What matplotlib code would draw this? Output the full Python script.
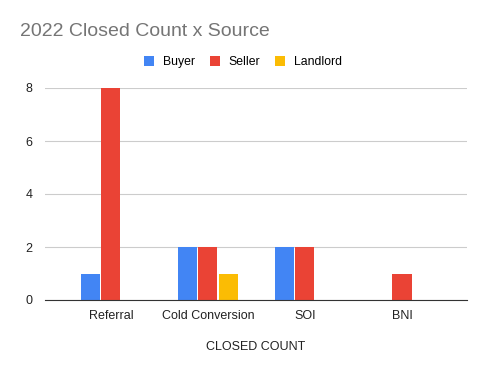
import numpy as np
import matplotlib.pyplot as plt

plt.rcParams['font.family'] = ['Liberation Sans', 'DejaVu Sans']

sources = ['Referral', 'Cold Conversion', 'SOI', 'BNI']
buyer = [1, 2, 2, 0]
seller = [8, 2, 2, 1]
landlord = [0, 1, 0, 0]
series = ['Buyer', 'Seller', 'Landlord']
colors = ['#4285f4', '#ea4335', '#fbbc04']

fig = plt.figure(figsize=(4.85, 3.71), dpi=100)
ax = fig.add_axes([45 / 485, 71 / 371, 422 / 485, 212 / 371])

x = np.arange(len(sources))
step = 0.216
w = 0.196
for i, (vals, name, c) in enumerate(zip([buyer, seller, landlord], series, colors)):
    ax.bar(x + (i - 1) * step, vals, width=w, color=c, label=name, zorder=3)

ax.set_xlim(-0.68, 3.67)
ax.set_ylim(0, 8)
ax.set_yticks([0, 2, 4, 6, 8])
ax.set_xticks(x)
ax.set_xticklabels(sources)
ax.grid(axis='y', color='#cccccc', linewidth=0.8, zorder=0)
for s in ['top', 'right', 'left']:
    ax.spines[s].set_visible(False)
ax.spines['bottom'].set_color('#333333')
ax.spines['bottom'].set_zorder(4)
ax.tick_params(length=0, labelsize=9, colors='#222222')
ax.tick_params(axis='x', pad=7)
ax.tick_params(axis='y', pad=9)
ax.set_xlabel('CLOSED COUNT', fontsize=9, color='#222222', labelpad=14)

fig.text(20 / 485, 1 - 32 / 371, '2022 Closed Count x Source', fontsize=14,
         color='#757575', va='center', ha='left')
fig.legend(loc='center', bbox_to_anchor=(243 / 485, 1 - 62 / 371), ncol=3,
           frameon=False, fontsize=8.8, handlelength=0.85, handleheight=0.9,
           columnspacing=1.2, handletextpad=0.7)

fig.savefig('out.png', dpi=100)
